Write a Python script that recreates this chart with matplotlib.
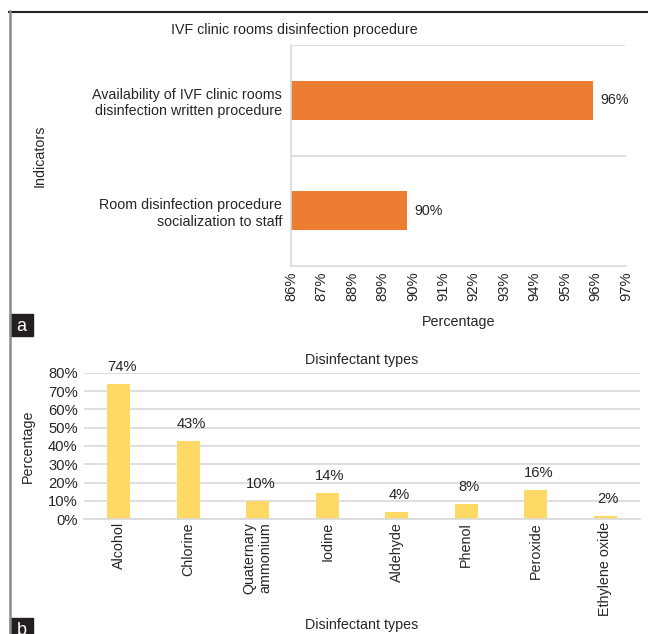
# -*- coding: utf-8 -*-

import matplotlib.pyplot as plt
from matplotlib.lines import Line2D
from matplotlib.patches import Rectangle

plt.rcParams['font.family'] = ['Liberation Sans', 'DejaVu Sans']

# panel a
indicators = ['Room disinfection procedure\nsocialization to staff',
              'Availability of IVF clinic rooms\ndisinfection written procedure']
indicator_values = [89.8, 95.9]
indicator_labels = ['90%', '96%']
pct_ticks = list(range(86, 98))

# panel b
disinfectants = ['Alcohol', 'Chlorine', 'Quaternary\nammonium', 'Iodine',
                 'Aldehyde', 'Phenol', 'Peroxide', 'Ethylene oxide']
disinfectant_values = [73.6, 42.8, 10.0, 14.3, 4.0, 8.3, 16.0, 2.0]
disinfectant_labels = ['74%', '43%', '10%', '14%', '4%', '8%', '16%', '2%']
y_ticks = list(range(0, 90, 10))

ORANGE = '#ED7D31'
YELLOW = '#FFD966'
GRID = '#d9d9d9'
TXT = '#262626'
FS = 10.3
TFS = 10.6
W, H = 648, 634

fig = plt.figure(figsize=(W / 100, H / 100), dpi=100)


def box(x0, y0, x1, y1):
    # pixel box -> figure fraction [left, bottom, width, height]
    return [x0 / W, 1 - y1 / H, (x1 - x0) / W, (y1 - y0) / H]


# ---- panel a ----
ax1 = fig.add_axes(box(291, 45, 626, 266))
ax1.barh(range(len(indicators)), indicator_values, height=0.35,
         color=ORANGE, left=0)
ax1.set_xlim(86, 97)
ax1.set_ylim(-0.5, 1.5)
ax1.set_xticks(pct_ticks)
ax1.set_xticklabels(['{}%'.format(t) for t in pct_ticks], rotation=90,
                    fontsize=TFS, color=TXT)
ax1.set_yticks(range(len(indicators)))
ax1.set_yticklabels(indicators, fontsize=FS, color=TXT, linespacing=1.25)
ax1.tick_params(length=0)
ax1.tick_params(axis='x', pad=4)
ax1.tick_params(axis='y', pad=6.5)
for s in ['top', 'right']:
    ax1.spines[s].set_visible(False)
for s in ['left', 'bottom']:
    ax1.spines[s].set_color(GRID)
    ax1.spines[s].set_linewidth(1.2)
for yy in [0.5, 1.5]:
    ax1.axhline(yy, color=GRID, lw=1.2)
for i, (v, lab) in enumerate(zip(indicator_values, indicator_labels)):
    ax1.text(v + 0.26, i, lab, va='center', ha='left', fontsize=FS, color=TXT)
ax1.set_title('IVF clinic rooms disinfection procedure', fontsize=FS,
              color=TXT, pad=8, x=0.01)
ax1.set_xlabel('Percentage', fontsize=FS, color=TXT, labelpad=10)
ax1.set_ylabel('Indicators', fontsize=FS, color=TXT)
ax1.yaxis.set_label_coords(-0.728, 0.5)

# ---- panel b ----
ax2 = fig.add_axes(box(84, 372.7, 640, 519.3))
xs = range(len(disinfectants))
ax2.bar(xs, disinfectant_values, width=0.33, color=YELLOW, zorder=2)
ax2.set_xlim(-0.5, len(disinfectants) - 0.5)
ax2.set_ylim(0, 80)
ax2.set_yticks(y_ticks)
ax2.set_yticklabels(['{}%'.format(t) for t in y_ticks], fontsize=TFS,
                    color=TXT)
ax2.set_xticks(list(xs))
ax2.set_xticklabels(disinfectants, rotation=90, fontsize=FS, color=TXT,
                    va='top', linespacing=1.2)
ax2.tick_params(length=0)
ax2.tick_params(axis='x', pad=2)
ax2.tick_params(axis='y', pad=4.5)
ax2.grid(axis='y', color=GRID, lw=1.2, zorder=0)
for s in ['top', 'right', 'left']:
    ax2.spines[s].set_visible(False)
ax2.spines['bottom'].set_color(GRID)
ax2.spines['bottom'].set_linewidth(1.2)
for x, v, lab in zip(xs, disinfectant_values, disinfectant_labels):
    ax2.text(x + 0.04, v + 5.5, lab, ha='center', va='bottom', fontsize=TFS,
             color=TXT)
ax2.set_title('Disinfectant types', fontsize=FS, color=TXT, pad=6)
ax2.set_xlabel('Disinfectant types', fontsize=FS, color=TXT)
ax2.xaxis.set_label_coords(0.5, -0.67)
ax2.set_ylabel('Percentage', fontsize=FS, color=TXT)
ax2.yaxis.set_label_coords(-0.089, 0.5)

# ---- frame and panel tags ----
fig.add_artist(Line2D([9 / W, 1], [1 - 11.5 / H] * 2, color='#222222', lw=1.5))
fig.add_artist(Line2D([9.5 / W] * 2, [0, 1 - 11 / H], color='#8a8a8a', lw=1.8))
for tag, y0, y1 in [('a', 314, 336), ('b', 618, 640)]:
    b = box(10, y0, 33, y1)
    fig.add_artist(Rectangle((b[0], b[1]), b[2], b[3], color='#231f20',
                             transform=fig.transFigure))
    fig.text(b[0] + b[2] / 2, b[1] + b[3] / 2 - 0.002, tag, color='white',
             ha='center', va='center', fontsize=13)

fig.savefig('out.png', dpi=100)
